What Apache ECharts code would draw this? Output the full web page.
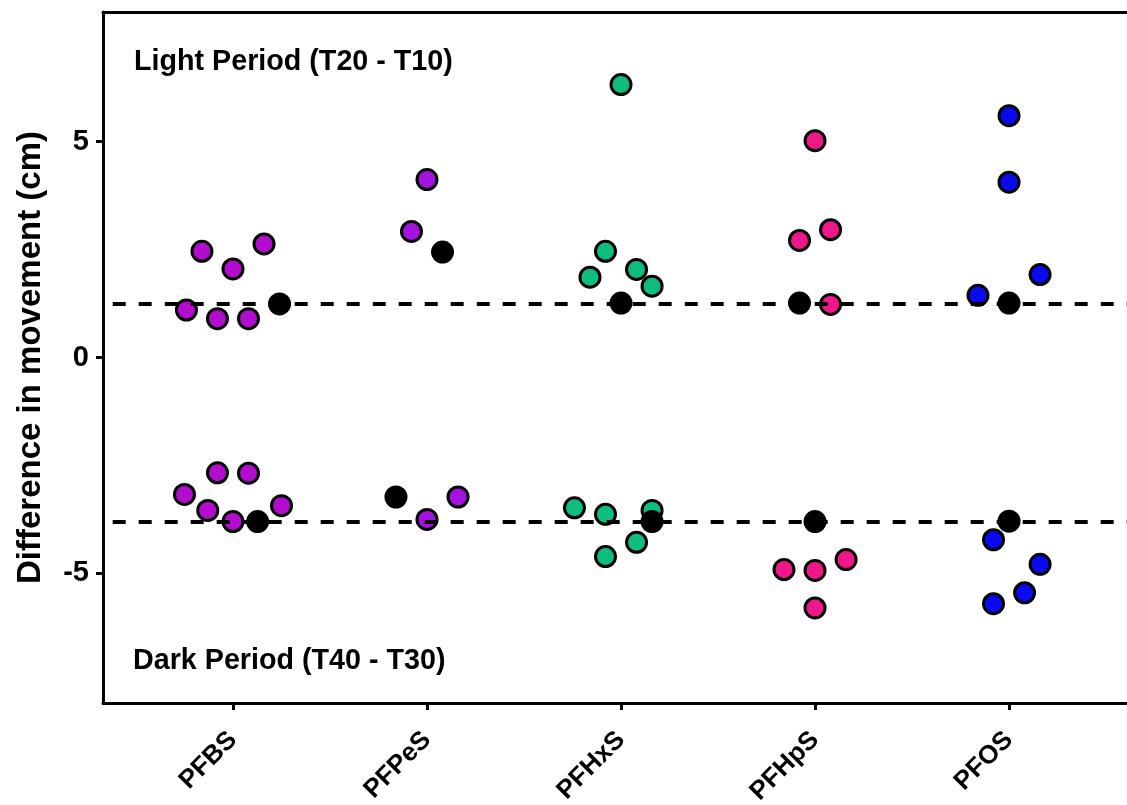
<!DOCTYPE html>
<html><head><meta charset="utf-8">
<script src="https://cdn.jsdelivr.net/npm/echarts@6/dist/echarts.min.js"></script>
<style>html,body{margin:0;padding:0;background:#fff}#c{width:1127px;height:805px}</style>
</head><body><div id="c"></div>
<script>
// ---- data ----
const categories = ['PFBS', 'PFPeS', 'PFHxS', 'PFHpS', 'PFOS'];
const colors = ['#B20CCE', '#A412E0', '#0DBE7C', '#F0178A', '#0A0AF2'];

// Light period (T20 - T10) values per compound
const lightValues = [
  [2.46, 2.05, 2.63, 1.10, 0.90, 0.90],
  [4.12, 2.92],
  [6.32, 2.46, 1.86, 2.04, 1.65],
  [5.02, 2.71, 2.96, 1.23],
  [5.60, 4.06, 1.92, 1.44]
];
// horizontal jitter (fraction of one category step)
const lightJitter = [
  [-0.16, 0, 0.16, -0.24, -0.08, 0.08],
  [0, -0.08],
  [0, -0.08, -0.16, 0.08, 0.16],
  [0, -0.08, 0.08, 0.08],
  [0, 0, 0.16, -0.16]
];
// Dark period (T40 - T30) values per compound
const darkValues = [
  [-2.67, -2.68, -3.17, -3.54, -3.80, -3.43],
  [-3.75, -3.23],
  [-3.48, -3.63, -3.54, -4.28, -4.61],
  [-4.91, -4.93, -4.68, -5.80],
  [-4.22, -4.79, -5.45, -5.70]
];
const darkJitter = [
  [-0.08, 0.08, -0.25, -0.13, 0, 0.25],
  [0, 0.16],
  [-0.24, -0.08, 0.16, 0.08, -0.08],
  [-0.16, 0, 0.16, 0],
  [-0.08, 0.16, 0.08, -0.08]
];
// Control (black) points
const controlLight = [1.24, 2.44, 1.26, 1.26, 1.26];
const controlLightJitter = [0.24, 0.08, 0, -0.08, 0];
const controlDark = [-3.80, -3.23, -3.80, -3.80, -3.79];
const controlDarkJitter = [0.127, -0.16, 0.16, 0, 0];
// reference (dashed) lines
const lightRef = 1.25;
const darkRef = -3.80;
const yTicks = [-5, 0, 5];
const yTitle = 'Difference in movement (cm)';
const lightLabel = 'Light Period (T20 - T10)';
const darkLabel = 'Dark Period (T40 - T30)';

// ---- chart ----
const FONT = '"Liberation Sans", Arial, sans-serif';
const X_MIN = 0.33, X_MAX = 5.608;
const chart = echarts.init(document.getElementById('c'), null, {renderer: 'canvas'});

const series = [];
categories.forEach((name, i) => {
  const data = [];
  lightValues[i].forEach((v, j) => data.push([i + 1 + lightJitter[i][j], v]));
  darkValues[i].forEach((v, j) => data.push([i + 1 + darkJitter[i][j], v]));
  series.push({
    name: name,
    type: 'scatter',
    z: 2,
    symbol: 'circle',
    symbolSize: 20,
    itemStyle: {color: colors[i], borderColor: '#000', borderWidth: 3, opacity: 1},
    data: data
  });
});
// dashed reference lines
series.push({
  name: 'ref',
  type: 'scatter',
  z: 3,
  data: [],
  markLine: {
    silent: true,
    symbol: 'none',
    label: {show: false},
    lineStyle: {color: '#000', width: 4, type: [13, 13]},
    data: [
      [{coord: [0.38, lightRef]}, {coord: [X_MAX, lightRef]}],
      [{coord: [0.38, darkRef]}, {coord: [X_MAX, darkRef]}]
    ]
  }
});
// control points
const ctrl = [];
controlLight.forEach((v, i) => ctrl.push([i + 1 + controlLightJitter[i], v]));
controlDark.forEach((v, i) => ctrl.push([i + 1 + controlDarkJitter[i], v]));
series.push({
  name: 'Control',
  type: 'scatter',
  z: 4,
  symbol: 'circle',
  symbolSize: 20,
  itemStyle: {color: '#000', borderColor: '#000', borderWidth: 3, opacity: 1},
  data: ctrl
});

const option = {
  animation: false,
  backgroundColor: '#fff',
  grid: {left: 103, right: 0, top: 12, bottom: 102, containLabel: false, outerBoundsMode: 'none'},
  xAxis: [{
    type: 'value',
    position: 'bottom',
    min: X_MIN, max: X_MAX,
    splitLine: {show: false},
    axisLine: {show: true, onZero: false, lineStyle: {color: '#000', width: 3}},
    axisTick: {show: true, length: 7, lineStyle: {color: '#000', width: 3}, customValues: [1, 2, 3, 4, 5]},
    axisLabel: {
      show: true, customValues: [1, 2, 3, 4, 5], rotate: 45, margin: 33,
      formatter: v => categories[Math.round(v) - 1] || '',
      color: '#000', fontFamily: FONT, fontWeight: 'bold', fontSize: 26
    }
  }, {
    type: 'value',
    position: 'top',
    min: X_MIN, max: X_MAX,
    splitLine: {show: false},
    axisLine: {show: true, onZero: false, lineStyle: {color: '#000', width: 3}},
    axisTick: {show: false},
    axisLabel: {show: false}
  }],
  yAxis: {
    type: 'value',
    min: -8, max: 8,
    splitLine: {show: false},
    axisLine: {show: true, onZero: false, lineStyle: {color: '#000', width: 3}},
    axisTick: {show: true, length: 7, lineStyle: {color: '#000', width: 3}, customValues: yTicks},
    axisLabel: {
      show: true, customValues: yTicks, margin: 14,
      color: '#000', fontFamily: FONT, fontWeight: 'bold', fontSize: 29
    },
    name: yTitle,
    nameLocation: 'middle',
    nameGap: 56,
    nameTextStyle: {color: '#000', fontFamily: FONT, fontWeight: 'bold', fontSize: 33}
  },
  graphic: [
    {type: 'text', x: 134, y: 62, silent: true,
     style: {text: lightLabel, fill: '#000', font: 'bold 28.7px ' + FONT, verticalAlign: 'middle', align: 'left'}},
    {type: 'text', x: 133, y: 661, silent: true,
     style: {text: darkLabel, fill: '#000', font: 'bold 28.7px ' + FONT, verticalAlign: 'middle', align: 'left'}}
  ],
  series: series
};
chart.setOption(option);
</script>
</body></html>
